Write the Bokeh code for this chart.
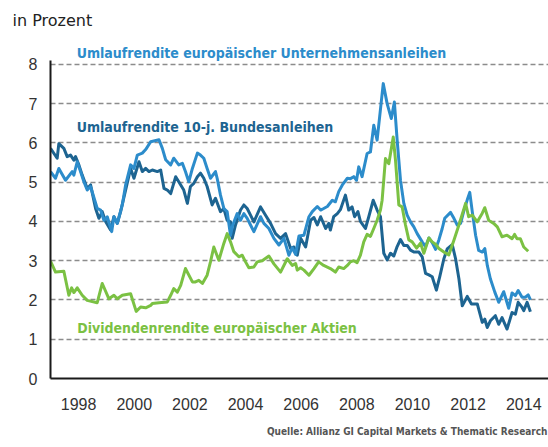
from bokeh.plotting import figure
from bokeh.models import Range1d, FixedTicker, Title, ColumnDataSource
from bokeh.core.properties import value
from bokeh.embed import file_html
from bokeh.resources import INLINE

# ---------------- data (decimal years, percent) ----------------
corp_t = [1996.99, 1997.17, 1997.29, 1997.53, 1997.77, 1997.83, 1997.95, 1998.07, 1998.19, 1998.31,
          1998.43, 1998.67, 1998.79, 1998.91, 1999.03, 1999.19, 1999.27, 1999.39, 1999.57, 1999.69,
          1999.87, 1999.99, 2000.11, 2000.29, 2000.41, 2000.59, 2000.89, 2001.01, 2001.13, 2001.31,
          2001.42, 2001.60, 2001.73, 2001.84, 2001.96, 2002.09, 2002.27, 2002.38, 2002.50, 2002.62,
          2002.74, 2002.92, 2002.98, 2003.10, 2003.22, 2003.34, 2003.46, 2003.54, 2003.70, 2003.82,
          2003.94, 2004.06, 2004.18, 2004.30, 2004.54, 2004.66, 2004.84, 2005.02, 2005.20, 2005.38,
          2005.56, 2005.68, 2005.80, 2005.92, 2006.10, 2006.28, 2006.40, 2006.58, 2006.70, 2006.81,
          2006.94, 2007.12, 2007.23, 2007.35, 2007.48, 2007.66, 2007.77, 2007.89, 2007.99, 2008.07,
          2008.19, 2008.37, 2008.49, 2008.61, 2008.73, 2008.95, 2009.09, 2009.24, 2009.35, 2009.45,
          2009.57, 2009.69, 2009.81, 2009.93, 2010.05, 2010.17, 2010.35, 2010.47, 2010.59, 2010.71,
          2010.83, 2010.95, 2011.07, 2011.16, 2011.37, 2011.49, 2011.61, 2011.73, 2011.84, 2011.97,
          2012.06, 2012.15, 2012.27, 2012.38, 2012.51, 2012.60, 2012.69, 2012.80, 2012.96, 2013.10,
          2013.28, 2013.46, 2013.58, 2013.70, 2013.80, 2013.94, 2014.06, 2014.16, 2014.24]
corp_v = [5.27, 5.10, 5.35, 5.05, 5.27, 5.18, 5.52, 5.27, 5.01, 4.80,
          4.89, 4.33, 4.29, 4.03, 4.12, 3.74, 4.12, 3.95, 4.42, 4.93,
          5.44, 5.35, 5.69, 5.74, 5.83, 6.03, 6.08, 5.86, 5.57, 5.44,
          5.61, 5.44, 5.48, 5.27, 5.01, 5.35, 5.74, 5.69, 5.61, 5.35,
          5.10, 5.27, 5.10, 4.67, 4.33, 4.25, 3.65, 3.91, 4.20, 4.03,
          4.20, 4.08, 3.91, 3.74, 4.12, 3.95, 3.82, 3.57, 3.40, 3.57,
          3.14, 3.33, 3.16, 3.63, 3.65, 4.12, 4.25, 4.38, 4.29, 4.33,
          4.38, 4.54, 4.50, 4.76, 4.93, 5.10, 5.09, 5.14, 5.05, 5.39,
          5.14, 5.73, 5.77, 6.45, 6.07, 7.51, 7.00, 6.62, 7.04, 6.07,
          5.05, 4.46, 4.16, 3.99, 3.86, 3.69, 3.48, 3.36, 3.58, 3.46,
          3.29, 3.53, 3.82, 4.08, 4.23, 4.08, 3.91, 3.95, 4.25, 4.55,
          4.74, 4.25, 3.65, 3.26, 3.22, 3.31, 2.88, 2.54, 2.20, 1.94,
          2.21, 1.79, 2.18, 2.11, 2.24, 2.07, 2.07, 2.13, 2.00]

bund_t = [1996.99, 1997.23, 1997.29, 1997.47, 1997.59, 1997.71, 1997.83, 1997.89, 1998.01, 1998.13,
          1998.31, 1998.43, 1998.61, 1998.73, 1998.85, 1998.97, 1999.15, 1999.27, 1999.39, 1999.51,
          1999.87, 1999.99, 2000.17, 2000.29, 2000.41, 2000.53, 2000.65, 2000.83, 2000.95, 2001.07,
          2001.19, 2001.31, 2001.49, 2001.60, 2001.78, 2001.91, 2002.02, 2002.14, 2002.27, 2002.38,
          2002.50, 2002.62, 2002.80, 2002.92, 2003.10, 2003.22, 2003.34, 2003.46, 2003.52, 2003.64,
          2003.82, 2003.94, 2004.06, 2004.18, 2004.30, 2004.54, 2004.72, 2004.90, 2005.08, 2005.26,
          2005.44, 2005.62, 2005.74, 2005.86, 2005.98, 2006.16, 2006.34, 2006.46, 2006.58, 2006.70,
          2006.88, 2006.99, 2007.05, 2007.17, 2007.30, 2007.41, 2007.59, 2007.71, 2007.83, 2007.92,
          2008.04, 2008.13, 2008.31, 2008.43, 2008.59, 2008.73, 2008.85, 2008.97, 2009.09, 2009.21,
          2009.33, 2009.45, 2009.57, 2009.69, 2009.81, 2009.93, 2010.05, 2010.23, 2010.35, 2010.47,
          2010.59, 2010.71, 2010.86, 2010.98, 2011.13, 2011.25, 2011.43, 2011.55, 2011.67, 2011.79,
          2011.97, 2012.12, 2012.33, 2012.51, 2012.60, 2012.69, 2012.80, 2012.98, 2013.10, 2013.22,
          2013.40, 2013.58, 2013.70, 2013.80, 2013.94, 2014.00, 2014.12, 2014.24]
bund_v = [5.86, 5.61, 5.98, 5.86, 5.65, 5.69, 5.56, 5.65, 5.44, 5.18,
          4.84, 4.93, 4.33, 4.08, 4.25, 4.00, 3.78, 4.12, 3.95, 4.25,
          5.35, 5.10, 5.52, 5.27, 5.35, 5.27, 5.31, 5.27, 5.31, 4.84,
          4.80, 4.71, 5.14, 5.01, 4.80, 4.46, 4.89, 4.97, 5.14, 5.23,
          5.10, 4.89, 4.42, 4.59, 4.25, 4.33, 4.03, 3.99, 3.57, 3.91,
          4.29, 4.42, 4.33, 4.16, 3.99, 4.37, 4.16, 3.95, 3.69, 3.57,
          3.69, 3.31, 3.35, 3.14, 3.57, 3.35, 4.03, 4.10, 3.91, 4.12,
          3.82, 3.95, 3.78, 4.12, 4.20, 4.30, 4.67, 4.29, 4.37, 4.12,
          4.25, 4.00, 3.82, 4.12, 4.54, 4.29, 4.12, 3.19, 3.02, 3.19,
          3.12, 3.36, 3.54, 3.39, 3.39, 3.27, 3.22, 3.22, 3.10, 2.68,
          2.64, 2.59, 2.25, 2.59, 3.05, 3.30, 3.41, 3.05, 2.54, 1.85,
          2.09, 1.90, 1.90, 1.43, 1.51, 1.30, 1.47, 1.60, 1.38, 1.55,
          1.26, 1.68, 1.64, 1.94, 1.81, 1.73, 1.94, 1.70]

div_t = [1996.99, 1997.17, 1997.47, 1997.65, 1997.75, 1997.83, 1997.95, 1998.13, 1998.31, 1998.67,
         1998.85, 1999.09, 1999.27, 1999.39, 1999.57, 1999.87, 2000.07, 2000.23, 2000.41, 2000.59,
         2000.65, 2000.89, 2001.19, 2001.31, 2001.42, 2001.55, 2001.67, 2001.84, 2002.09, 2002.20,
         2002.32, 2002.45, 2002.62, 2002.74, 2002.86, 2003.04, 2003.22, 2003.34, 2003.46, 2003.58,
         2003.76, 2003.88, 2004.00, 2004.12, 2004.30, 2004.42, 2004.60, 2004.84, 2005.02, 2005.26,
         2005.50, 2005.68, 2005.80, 2005.86, 2005.98, 2006.10, 2006.28, 2006.46, 2006.63, 2006.81,
         2007.05, 2007.23, 2007.35, 2007.53, 2007.66, 2007.77, 2007.89, 2008.01, 2008.13, 2008.25,
         2008.37, 2008.49, 2008.61, 2008.73, 2008.85, 2008.91, 2009.03, 2009.15, 2009.31, 2009.39,
         2009.51, 2009.63, 2009.75, 2009.87, 2009.99, 2010.15, 2010.29, 2010.41, 2010.59, 2010.71,
         2010.83, 2010.95, 2011.13, 2011.31, 2011.49, 2011.67, 2011.91, 2012.02, 2012.15, 2012.33,
         2012.51, 2012.60, 2012.74, 2012.92, 2013.05, 2013.22, 2013.40, 2013.58, 2013.67, 2013.76,
         2013.88, 2014.00, 2014.16]
div_v = [2.99, 2.71, 2.73, 2.12, 2.31, 2.19, 2.31, 2.12, 1.99, 1.93,
         2.42, 2.03, 2.12, 2.03, 2.12, 2.16, 1.71, 1.82, 1.80, 1.86,
         1.91, 1.93, 1.95, 2.12, 2.29, 2.20, 2.37, 2.80, 2.46, 2.46,
         2.50, 2.42, 2.63, 2.97, 3.35, 3.01, 3.44, 3.69, 3.48, 3.23,
         3.10, 3.14, 2.97, 2.82, 2.84, 2.97, 3.00, 3.12, 2.92, 2.71,
         3.05, 2.88, 2.93, 2.76, 2.82, 2.76, 2.63, 2.80, 2.97, 2.88,
         2.80, 2.71, 2.84, 2.80, 2.88, 2.97, 3.00, 2.95, 3.14, 3.48,
         3.67, 3.62, 3.82, 4.03, 4.29, 4.54, 5.60, 5.47, 6.15, 5.56,
         4.42, 4.37, 3.91, 3.53, 3.48, 3.32, 3.45, 3.19, 3.58, 3.48,
         3.42, 3.31, 3.22, 3.15, 3.52, 3.91, 4.46, 4.12, 4.16, 3.99,
         4.21, 4.35, 4.03, 3.95, 3.86, 3.61, 3.65, 3.56, 3.67, 3.56,
         3.56, 3.35, 3.24]

x_ticks = [1998, 2000, 2002, 2004, 2006, 2008, 2010, 2012, 2014]
y_ticks = [0, 1, 2, 3, 4, 5, 6, 7, 8]

series_names = ["Umlaufrendite europäischer Unternehmensanleihen",
                "Umlaufrendite 10-j. Bundesanleihen",
                "Dividendenrendite europäischer Aktien"]
unit_label = "in Prozent"
source_label = "Quelle: Allianz GI Capital Markets & Thematic Research"

# ---------------- styling ----------------
C_CORP = "#2c8ccb"
C_BUND = "#1d6491"
C_DIV = "#7bc143"
NARROW = "DejaVu Sans Condensed, Roboto Condensed, Roboto, sans-serif"

p = figure(width=548, height=447, output_backend="svg", toolbar_location=None,
           x_range=Range1d(1996.99, 2014.89), y_range=Range1d(0, 8.71),
           min_border_left=50, min_border_right=0, min_border_top=36, min_border_bottom=68)
p.outline_line_color = None
p.background_fill_color = "white"
p.border_fill_color = "white"

# "in Prozent"
p.title.text = unit_label
p.title.align = "left"
p.title.offset = -38
p.title.text_font = "DejaVu Sans"
p.title.text_font_size = "16px"
p.title.text_font_style = "normal"
p.title.text_color = "#222222"
p.title.standoff = 14

# axes
p.xaxis.ticker = FixedTicker(ticks=x_ticks)
p.yaxis.ticker = FixedTicker(ticks=y_ticks)
p.yaxis.bounds = (0, 8.1)
for ax in (p.xaxis[0], p.yaxis[0]):
    ax.axis_line_color = "#1a1a1a"
    ax.axis_line_width = 2
    ax.major_tick_line_color = None
    ax.minor_tick_line_color = None
    ax.major_tick_out = 0
    ax.major_tick_in = 0
    ax.major_label_text_font = "Liberation Sans"
    ax.major_label_text_font_size = "16px"
    ax.major_label_text_color = "#333333"
p.xaxis.major_label_standoff = 19
p.yaxis.major_label_standoff = 13

p.xgrid.grid_line_color = None
p.ygrid.grid_line_color = "#8c8c8c"
p.ygrid.grid_line_width = 1.5
p.ygrid.grid_line_dash = "5 3"

# lines
p.line(bund_t, bund_v, line_color=C_BUND, line_width=3, line_join="round")
p.line(corp_t, corp_v, line_color=C_CORP, line_width=3, line_join="round")
p.line(div_t, div_v, line_color=C_DIV, line_width=3, line_join="round")

# series labels
lab = ColumnDataSource(dict(x=[1997.93, 1997.93, 1997.95], y=[8.30, 6.41, 1.28],
                            text=series_names, color=[C_CORP, C_BUND, C_DIV]))
p.text(x="x", y="y", text="text", text_color="color", source=lab,
       text_font=value(NARROW), text_font_style="bold", text_font_size="14px",
       text_baseline="alphabetic", text_align="left")

# source line
src = Title(text=source_label, align="right", offset=1,
            text_font=NARROW, text_font_style="bold", text_font_size="10px",
            text_color="#555555", standoff=22)
p.add_layout(src, "below")

open("out.html", "w").write(file_html(p, INLINE))
